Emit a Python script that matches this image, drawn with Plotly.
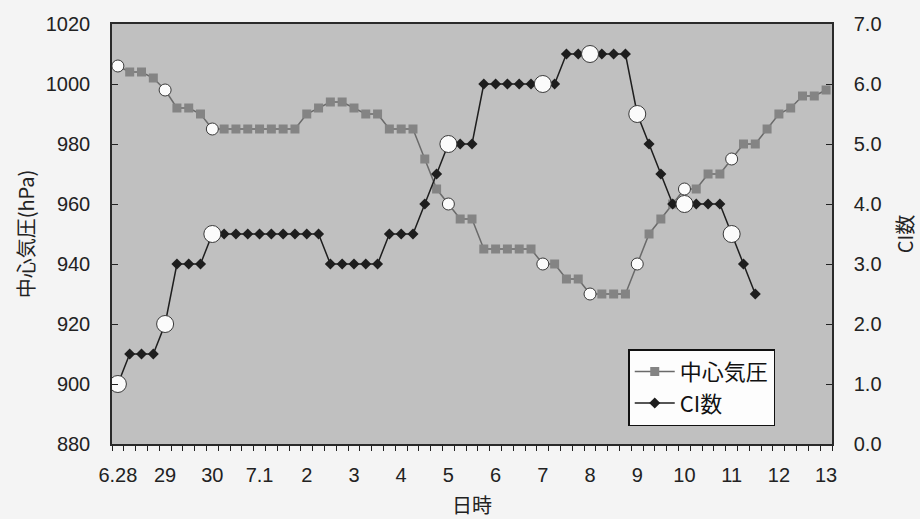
import plotly.graph_objects as go

# Day labels shown under the time axis (one label per day, data every 6 hours)
tick_labels = ["6.28", "29", "30", "7.1", "2", "3", "4", "5", "6", "7",
               "8", "9", "10", "11", "12", "13"]
steps_per_day = 4

# Central pressure (hPa), 6-hourly from 6.28 00h to 7.13 00h
pressure = [1006, 1004, 1004, 1002, 998, 992, 992, 990,
            985, 985, 985, 985, 985, 985, 985, 985,
            990, 992, 994, 994, 992, 990, 990, 985,
            985, 985, 975, 965, 960, 955, 955, 945,
            945, 945, 945, 945, 940, 940, 935, 935,
            930, 930, 930, 930, 940, 950, 955, 960,
            965, 965, 970, 970, 975, 980, 980, 985,
            990, 992, 996, 996, 998]

# CI number, 6-hourly from 6.28 00h
ci = [1.0, 1.5, 1.5, 1.5, 2.0, 3.0, 3.0, 3.0,
      3.5, 3.5, 3.5, 3.5, 3.5, 3.5, 3.5, 3.5,
      3.5, 3.5, 3.0, 3.0, 3.0, 3.0, 3.0, 3.5,
      3.5, 3.5, 4.0, 4.5, 5.0, 5.0, 5.0, 6.0,
      6.0, 6.0, 6.0, 6.0, 6.0, 6.0, 6.5, 6.5,
      6.5, 6.5, 6.5, 6.5, 5.5, 5.0, 4.5, 4.0,
      4.0, 4.0, 4.0, 4.0, 3.5, 3.0, 2.5]

# Days whose 00h values are ringed with open circles
circled_days = ["6.28", "29", "30", "5", "7", "8", "9", "10", "11"]

x_p = list(range(len(pressure)))
x_c = list(range(len(ci)))
circled_idx = [tick_labels.index(d) * steps_per_day for d in circled_days]
tick_pos = [i * steps_per_day for i in range(len(tick_labels))]

num_font = dict(family="Liberation Sans, Arial, sans-serif", size=20, color="#222222")
jp_font = dict(family="Noto Sans CJK JP, sans-serif", size=20, color="#222222")

fig = go.Figure()

fig.add_trace(go.Scatter(
    x=x_p, y=pressure, name="中心気圧", mode="lines+markers",
    line=dict(color="#6a6a6a", width=1.5),
    marker=dict(symbol="square", size=9, color="#848484",
                line=dict(color="#848484", width=0)),
))
fig.add_trace(go.Scatter(
    x=x_c, y=ci, name="CI数", mode="lines+markers", yaxis="y2",
    line=dict(color="#1e1e1e", width=1.5),
    marker=dict(symbol="diamond", size=8.5, color="#1e1e1e",
                line=dict(color="#1e1e1e", width=0)),
))
fig.add_trace(go.Scatter(
    x=circled_idx, y=[pressure[i] for i in circled_idx], mode="markers",
    showlegend=False, hoverinfo="skip",
    marker=dict(symbol="circle", size=12, color="#fbfbfb",
                line=dict(color="#3a3a3a", width=1)),
))
fig.add_trace(go.Scatter(
    x=circled_idx, y=[ci[i] for i in circled_idx if i < len(ci)], mode="markers",
    yaxis="y2", showlegend=False, hoverinfo="skip",
    marker=dict(symbol="circle", size=17, color="#fbfbfb",
                line=dict(color="#3a3a3a", width=1)),
))

fig.update_layout(
    width=920, height=519,
    margin=dict(l=112, r=88, t=24, b=75),
    paper_bgcolor="#f4f4f4",
    plot_bgcolor="#c0c0c0",
    showlegend=True,
    legend=dict(
        x=0.717, y=0.226, xanchor="left", yanchor="top",
        bgcolor="#fdfdfd", bordercolor="#111111", borderwidth=1.5,
        font=dict(family="Noto Sans CJK JP, sans-serif", size=22, color="#111111"),
        tracegroupgap=0, itemwidth=40,
    ),
    xaxis=dict(
        range=[-0.5, len(pressure) - 0.5], automargin=False,
        tickmode="array", tickvals=tick_pos, ticktext=tick_labels,
        ticks="", tickfont=num_font, ticklabelstandoff=12,
        minor=dict(ticks="outside", tick0=-0.5, dtick=1, ticklen=5,
                   tickcolor="#222222", tickwidth=1),
        showline=True, linecolor="#2a2a2a", linewidth=1.5, mirror=True,
        showgrid=False, zeroline=False,
        title=dict(text="日時", font=dict(family="Noto Sans CJK JP, sans-serif",
                                         size=20, color="#222222"), standoff=20),
    ),
    yaxis=dict(
        range=[880, 1020], tickmode="linear", tick0=880, dtick=20, automargin=False,
        ticks="inside", ticklen=6, tickcolor="#222222",
        tickfont=num_font, ticklabelstandoff=16,
        showline=True, linecolor="#2a2a2a", linewidth=1.5,
        showgrid=False, zeroline=False,
        title=dict(text="中心気圧(hPa)", font=jp_font, standoff=6),
    ),
    yaxis2=dict(
        range=[0, 7], tickmode="linear", tick0=0, dtick=1, tickformat=".1f",
        overlaying="y", side="right", automargin=False,
        ticks="inside", ticklen=6, tickcolor="#222222",
        tickfont=num_font, ticklabelstandoff=16,
        showline=True, linecolor="#2a2a2a", linewidth=1.5,
        showgrid=False, zeroline=False,
        title=dict(text="CI数", font=jp_font, standoff=18),
    ),
)

fig.write_html("out.html")
